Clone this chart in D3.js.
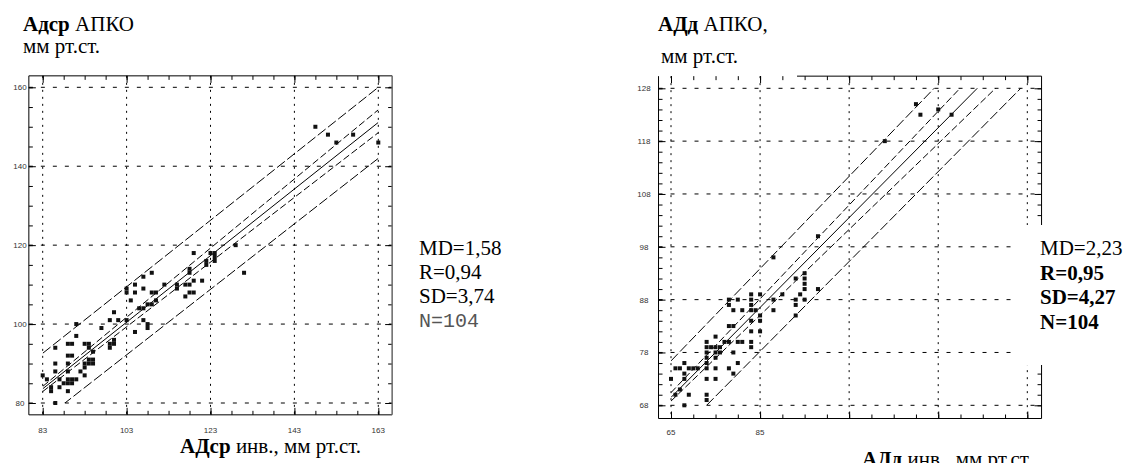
<!DOCTYPE html>
<html>
<head>
<meta charset="utf-8">
<script src="https://cdn.jsdelivr.net/npm/d3@7"></script>
<style>
  body { margin: 0; background: #fff; }
  svg { display: block; }
  .serif { font-family: "Liberation Serif", "Times New Roman", serif; }
  .tick-label { font-family: "Liberation Sans", Arial, sans-serif; font-size: 8px; fill: #333; }
</style>
</head>
<body>
<svg id="chart" width="1127" height="463"></svg>
<script>
// left panel: АДср (mean pressure)
const leftPoints = [
    [83,87],[84,86],[85,84],[85,83],[86,80],[86,88],[86,90],[86,94],[87,86],[87,84],
    [88,85],[89,85],[90,85],[89,83],[89,86],[90,86],[91,86],[89,88],[89,90],[89,92],
    [90,92],[89,95],[90,95],[91,97],[91,100],[92,88],[93,87],[93,95],[94,95],[93,89],
    [93,90],[94,91],[95,91],[95,90],[94,90],[94,94],[95,93],[97,99],[99,101],[101,101],
    [99,95],[99,94],[100,96],[100,95],[100,103],[103,101],[103,109],[103,108],[104,106],[105,98],
    [105,110],[105,108],[106,104],[107,104],[107,112],[107,101],[107,109],[108,100],[108,99],[108,105],
    [109,105],[109,113],[109,108],[110,108],[110,106],[112,110],[115,110],[115,109],[117,107],[117,110],
    [118,110],[118,114],[118,113],[118,108],[119,108],[119,118],[119,111],[121,111],[122,116],[122,115],
    [123,118],[124,118],[124,117],[124,116],[129,120],[131,113],[148,150],[151,148],[153,146],[157,148],
    [163,146]
];
const leftXTicks = [83, 103, 123, 143, 163];
const leftYTicks = [80, 100, 120, 140, 160];
const leftLines = [
    {kind: "outer", pts: [[83, 92.6], [163, 160]]},
    {kind: "inner", pts: [[83, 84.2], [163, 154.3]]},
    {kind: "fit",   pts: [[83, 83.6], [163, 151.1]]},
    {kind: "inner", pts: [[83, 82.9], [163, 148.5]]},
    {kind: "outer", pts: [[83, 75.6], [163, 142.0]]}
];
const leftStats = ["MD=1,58", "R=0,94", "SD=3,74", "N=104"];

// right panel: АДд (diastolic pressure)
const rightPoints = [
    [65,73],[66,70],[67,71],[68,68],[66,75],[67,75],[68,76],[68,74],[68,73],[69,75],
    [70,75],[71,75],[69,70],[73,80],[73,79],[73,78],[73,77],[73,76],[73,75],[73,73],
    [73,70],[73,69],[75,81],[74,79],[75,79],[76,79],[75,78],[76,78],[75,77],[75,75],
    [75,73],[77,80],[78,80],[78,75],[79,78],[79,74],[80,76],[80,80],[81,80],[78,83],
    [79,83],[78,88],[78,87],[80,88],[79,86],[81,86],[83,89],[83,88],[83,87],[83,86],
    [83,84],[83,82],[83,80],[83,79],[85,89],[85,85],[85,84],[85,82],[84,86],[88,96],
    [88,88],[88,86],[90,89],[93,92],[93,88],[93,87],[93,85],[94,89],[95,93],[95,92],
    [95,91],[95,90],[95,88],[98,100],[98,90],[113,118],[120,125],[121,123],[125,124],[128,123]
];
const rightXTicks = [65, 85, 105, 125, 145];
const rightXLabels = [65, 85];
const rightYTicks = [68, 78, 88, 98, 108, 118, 128];
const rightLines = [
    {kind: "outer", pts: [[65, 76.4], [125, 128.8]]},
    {kind: "inner", pts: [[65, 70.4], [130, 128.1]]},
    {kind: "fit",   pts: [[65, 69.5], [134, 128.2]]},
    {kind: "inner", pts: [[65, 68.8], [138, 128.1]]},
    {kind: "outer", pts: [[73, 68.0], [144, 128.4]]}
];
const rightStats = ["MD=2,23", "R=0,95", "SD=4,27", "N=104"];

const dashFor = {outer: "10,3", inner: "7,3", fit: null};

const svg = d3.select("#chart");

function drawPanel(cfg) {
    const x = d3.scaleLinear().domain(cfg.xDomain).range(cfg.xRange),
        y = d3.scaleLinear().domain(cfg.yDomain).range(cfg.yRange),
        g = svg.append("g"),
        fx0 = x(cfg.xFrame[0]), fx1 = x(cfg.xFrame[1]),
        fy0 = y(cfg.yFrame[1]), fy1 = y(cfg.yFrame[0]);

    // grid
    g.selectAll(".hgrid").data(cfg.yTicks).join("line")
        .attr("x1", fx0).attr("x2", fx1)
        .attr("y1", (d) => y(d)).attr("y2", (d) => y(d))
        .attr("stroke", "#000").attr("stroke-width", 1)
        .attr("stroke-dasharray", "4,8");
    g.selectAll(".vgrid").data(cfg.xTicks).join("line")
        .attr("x1", (d) => x(d)).attr("x2", (d) => x(d))
        .attr("y1", fy0).attr("y2", fy1)
        .attr("stroke", "#000").attr("stroke-width", 1)
        .attr("stroke-dasharray", "2,5");

    // minor / major ticks on all four sides, pointing inward
    const minorX = d3.range(cfg.xDomain[0], cfg.xDomain[1] + 0.01, cfg.xStep),
        minorY = d3.range(cfg.yDomain[0], cfg.yDomain[1] + 0.01, cfg.yStep);
    const tickAxis = (axis, vals, size, tx, ty) => {
        g.append("g").attr("transform", `translate(${tx},${ty})`)
            .call(axis.tickValues(vals).tickSize(size).tickFormat(""))
            .call((a) => a.select(".domain").remove())
            .selectAll("line").attr("stroke", "#000");
    };
    tickAxis(d3.axisRight(y), minorY, 4, fx0, 0);
    tickAxis(d3.axisRight(y), cfg.yTicks, 7, fx0, 0);
    tickAxis(d3.axisLeft(y), minorY, 4, fx1, 0);
    tickAxis(d3.axisLeft(y), cfg.yTicks, 7, fx1, 0);
    tickAxis(d3.axisBottom(x), minorX, 4, 0, fy0);
    tickAxis(d3.axisBottom(x), cfg.xTicks, 7, 0, fy0);
    tickAxis(d3.axisTop(x), minorX, 4, 0, fy1);
    tickAxis(d3.axisTop(x), cfg.xTicks, 7, 0, fy1);

    // frame
    g.append("line").attr("x1", fx0).attr("x2", fx0).attr("y1", fy0).attr("y2", fy1).attr("stroke", "#000");
    g.append("line").attr("x1", fx0).attr("x2", fx1).attr("y1", fy1).attr("y2", fy1).attr("stroke", "#000");
    g.append("line").attr("x1", cfg.topFrom ? x(cfg.topFrom) : fx0).attr("x2", fx1)
        .attr("y1", fy0).attr("y2", fy0).attr("stroke", "#000");
    g.append("line").attr("x1", fx1).attr("x2", fx1).attr("y1", fy0).attr("y2", fy1)
        .attr("stroke", cfg.rightColor).attr("stroke-width", cfg.rightWidth);

    // tick labels
    g.selectAll(".ylab").data(cfg.yTicks).join("text")
        .attr("class", "tick-label")
        .attr("x", cfg.yLabelX).attr("y", (d) => y(d) + 3)
        .attr("text-anchor", "middle").text((d) => d);
    g.selectAll(".xlab").data(cfg.xLabels).join("text")
        .attr("class", "tick-label")
        .attr("x", (d) => x(d)).attr("y", cfg.xLabelY)
        .attr("text-anchor", "middle").text((d) => d);

    // regression line and bands, clipped to the grid area
    const clipId = "clip-" + cfg.id;
    svg.append("clipPath").attr("id", clipId).append("rect")
        .attr("x", x(cfg.xDomain[0])).attr("y", y(cfg.yDomain[1]))
        .attr("width", x(cfg.xDomain[1]) - x(cfg.xDomain[0]))
        .attr("height", y(cfg.yDomain[0]) - y(cfg.yDomain[1]));
    const line = d3.line().x((d) => x(d[0])).y((d) => y(d[1]));
    g.append("g").attr("clip-path", `url(#${clipId})`)
        .selectAll("path").data(cfg.lines).join("path")
        .attr("d", (d) => line(d.pts))
        .attr("fill", "none").attr("stroke", "#000").attr("stroke-width", 1)
        .attr("stroke-dasharray", (d) => dashFor[d.kind]);

    // points
    g.selectAll(".pt").data(cfg.points).join("rect")
        .attr("x", (d) => x(d[0]) - 2).attr("y", (d) => y(d[1]) - 2)
        .attr("width", 4).attr("height", 4).attr("fill", "#111");

    return {x, y};
}

drawPanel({
    id: "left", xDomain: [83, 163], xRange: [42.7, 378.3], yDomain: [80, 160], yRange: [403, 87.3],
    xFrame: [79.7, 166.3], yFrame: [77, 162.9], xStep: 5, yStep: 5,
    xTicks: leftXTicks, yTicks: leftYTicks, xLabels: leftXTicks,
    yLabelX: 20, xLabelY: 433, lines: leftLines, points: leftPoints,
    rightColor: "#666", rightWidth: 1.5
});

drawPanel({
    id: "right", xDomain: [65, 145], xRange: [671, 1027.3], yDomain: [68, 128], yRange: [405.3, 88.3],
    xFrame: [62.2, 148.2], yFrame: [65.5, 130.3], xStep: 5, yStep: 2, topFrom: 93.3,
    xTicks: rightXTicks, yTicks: rightYTicks, xLabels: rightXLabels,
    yLabelX: 644, xLabelY: 435, lines: rightLines, points: rightPoints,
    rightColor: "#000", rightWidth: 1
});

// titles
const title = (tx, ty, bold, rest) => {
    const t = svg.append("text").attr("class", "serif").attr("x", tx).attr("y", ty)
        .attr("font-size", 21).attr("fill", "#000");
    t.append("tspan").attr("font-weight", "bold").text(bold);
    t.append("tspan").text(rest);
};
title(23, 31, "Адср", " АПКО");
svg.append("text").attr("class", "serif").attr("x", 23).attr("y", 53).attr("font-size", 21).text("мм рт.ст.");
title(180, 453, "АДср", " инв., мм рт.ст.");

title(658, 31, "АДд", " АПКО,");
svg.append("text").attr("class", "serif").attr("x", 661).attr("y", 63).attr("font-size", 21).text("мм рт.ст.");
title(862, 466, "АДд", " инв., мм рт.ст.");

// stats, left
leftStats.forEach((s, i) => {
    const last = i === leftStats.length - 1;
    svg.append("text")
        .attr("x", 419).attr("y", 255 + i * 24)
        .attr("font-family", last ? "'Liberation Mono', 'Courier New', monospace" : "'Liberation Serif', serif")
        .attr("font-size", last ? 20 : 21)
        .attr("fill", last ? "#555" : "#000")
        .text(s);
});

// stats, right (white box hides frame and grid behind it)
svg.append("rect").attr("x", 1012).attr("y", 225).attr("width", 115).attr("height", 140).attr("fill", "#fff");
rightStats.forEach((s, i) => {
    svg.append("text").attr("class", "serif")
        .attr("x", 1040).attr("y", 255 + i * 24.5)
        .attr("font-size", 21)
        .attr("font-weight", i === 0 ? "normal" : "bold")
        .text(s);
});
</script>
</body>
</html>
